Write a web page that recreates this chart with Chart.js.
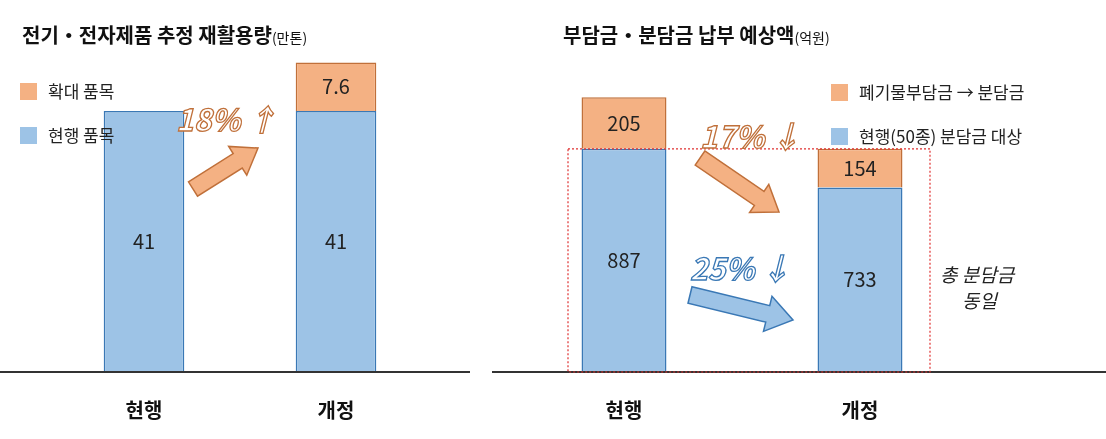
<!DOCTYPE html>
<html><head><meta charset="utf-8">
<script src="https://cdn.jsdelivr.net/npm/chart.js@4"></script>
<style>
body{margin:0;width:1106px;height:439px;background:#fff;position:relative;overflow:hidden;font-family:"Noto Sans CJK KR",sans-serif}
canvas{position:absolute;top:0}
.t{position:absolute;top:20px;font-weight:bold;font-size:20px;color:#111;white-space:nowrap}
.t small{font-weight:normal;font-size:14px}
svg{position:absolute;left:0;top:0}
</style></head><body>
<canvas id="c1" width="470" height="439" style="left:0"></canvas>
<canvas id="c2" width="614" height="439" style="left:492px"></canvas>
<div class="t" style="left:22px">전기・전자제품 추정 재활용량<small>(만톤)</small></div>
<div class="t" style="left:563px">부담금・분담금 납부 예상액<small>(억원)</small></div>
<svg width="1106" height="439" id="ov"></svg>
<script>
const categories=['현행','개정'];
const leftBase=[41,41];
const leftExpand=[0,7.6];
const leftLabels=['현행 품목','확대 품목'];
const rightBase=[887,733];
const rightWaste=[205,154];
const rightLabels=['현행(50종) 분담금 대상','폐기물부담금 → 분담금'];
const ORANGE='#F4B183',ORB='#C0703A',BLUE='#9DC3E6',BLB='#3A78B5';
const FONT='"Noto Sans CJK KR",sans-serif';

function plug(lineFrom,lineTo,legendX,legendY,box){
 return {id:'p',afterDatasetsDraw(ch){
  const c=ch.ctx,x=ch.scales.x,y=ch.scales.y;c.save();
  c.font='20px '+FONT;c.fillStyle='#222';c.textAlign='center';c.textBaseline='middle';
  ch.data.datasets.forEach((ds,i)=>{ch.getDatasetMeta(i).data.forEach((b,j)=>{
    if(!ds.data[j])return;c.fillText(String(ds.data[j]),b.x,(b.y+b.base)/2);});});
  c.strokeStyle='#333';c.lineWidth=2;c.beginPath();c.moveTo(lineFrom,y.bottom);c.lineTo(lineTo,y.bottom);c.stroke();
  c.font='bold 20px '+FONT;c.fillStyle='#111';
  categories.forEach((k,i)=>c.fillText(k,x.getPixelForValue(i),y.bottom+38));
  const items=[[ch.data.datasets[1].label,ORANGE],[ch.data.datasets[0].label,BLUE]];
  c.font='17px '+FONT;c.textAlign='left';
  items.forEach((it,i)=>{const yy=legendY+i*44;c.fillStyle=it[1];c.fillRect(legendX,yy-9,17,17);
    c.fillStyle='#222';c.fillText(it[0],legendX+28,yy);});
  if(box){const top=y.getPixelForValue(rightBase[0]);
    c.strokeStyle='#E03030';c.lineWidth=1.2;c.setLineDash([2,2]);
    c.strokeRect(box[0],top,box[1]-box[0],y.bottom-top);}
  c.restore();}};
}
function mk(id,base,top,labs,max,pad,bp,lf,lt,lx,ly,box){
 new Chart(document.getElementById(id),{type:'bar',
  data:{labels:categories,datasets:[
   {label:labs[0],data:base,backgroundColor:BLUE,borderColor:BLB,borderWidth:1.5,barPercentage:bp,categoryPercentage:1},
   {label:labs[1],data:top,backgroundColor:ORANGE,borderColor:ORB,borderWidth:1.5,barPercentage:bp,categoryPercentage:1}]},
  options:{responsive:false,animation:false,layout:{padding:pad},
   plugins:{legend:{display:false},tooltip:{enabled:false}},
   scales:{x:{stacked:true,display:false},y:{stacked:true,display:false,min:0,max:max}}},
  plugins:[plug(lf,lt,lx,ly,box)]});
}
mk('c1',leftBase,leftExpand,leftLabels,49,{left:48,right:38,top:60,bottom:67},0.42,0,470,20,92,null);
mk('c2',rightBase,rightWaste,rightLabels,1240,{left:14,right:128,top:60,bottom:67},0.36,0,614,339,93,[76,438]);

const ov=document.getElementById('ov');
function arrow(x1,y1,x2,y2,sw,hw,hl,fill,stroke){
 const L=Math.hypot(x2-x1,y2-y1),a=Math.atan2(y2-y1,x2-x1)*180/Math.PI,s=L-hl;
 const pts=[[0,-sw/2],[s,-sw/2],[s,-hw/2],[L,0],[s,hw/2],[s,sw/2],[0,sw/2]].map(p=>p.join(',')).join(' ');
 ov.insertAdjacentHTML('beforeend',`<polygon points="${pts}" fill="${fill}" stroke="${stroke}" stroke-width="1.5" transform="translate(${x1},${y1}) rotate(${a})"/>`);
}
function txt(x,y,t,stroke,size){
 ov.insertAdjacentHTML('beforeend',`<text x="${x}" y="${y}" font-family='"Noto Sans CJK KR",sans-serif' font-size="${size}" font-weight="bold" font-style="italic" fill="#fff" stroke="${stroke}" stroke-width="1.3">${t}</text>`);
}
arrow(193,189,258,148,17,34,24,ORANGE,ORB);
arrow(700,158,779,212,17,34,24,ORANGE,ORB);
arrow(690,295,793,320,17,36,26,BLUE,BLB);
txt(176,131,'18% ↑','#C0703A',30);
txt(700,148,'17% ↓','#C0703A',30);
txt(690,280,'25% ↓','#3A78B5',30);
ov.insertAdjacentHTML('beforeend',`<text x="940" y="282" font-family='"Noto Sans CJK KR",sans-serif' font-size="19" font-style="italic" fill="#222">총 분담금</text><text x="962" y="308" font-family='"Noto Sans CJK KR",sans-serif' font-size="19" font-style="italic" fill="#222">동일</text>`);
</script>
</body></html>
